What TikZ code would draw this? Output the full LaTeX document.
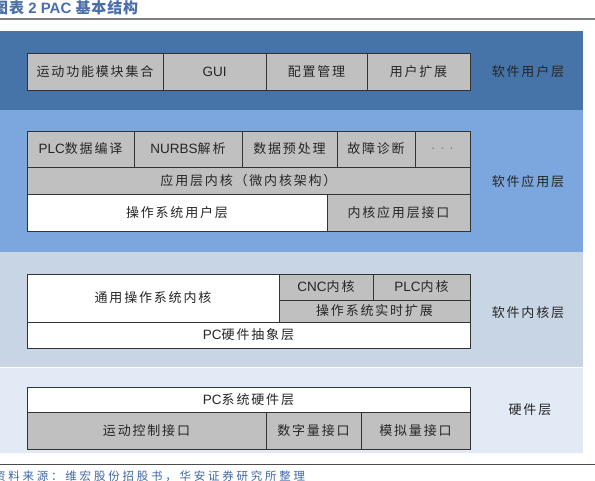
\documentclass[tikz,border=0pt]{standalone}
\usepackage{fontspec}
\setmainfont{Liberation Sans}
\newfontfamily\cjk[LetterSpace=14]{Noto Sans CJK SC}
\newfontfamily\cjkt[LetterSpace=6]{Noto Sans CJK SC}
\newfontfamily\cjks[LetterSpace=24]{Noto Sans CJK SC}
\definecolor{bandA}{HTML}{4673A8}
\definecolor{bandB}{HTML}{7BA6DE}
\definecolor{bandC}{HTML}{C8D5E5}
\definecolor{bandD}{HTML}{E2EAF6}
\definecolor{cellgray}{HTML}{C0C0C0}
\definecolor{titleblue}{HTML}{4A6FA8}
\definecolor{srcblue}{HTML}{3F66A3}
\tikzset{
  band/.style={draw=none, anchor=north west, inner sep=0pt, outer sep=0pt},
  cell/.style={draw=black!80, line width=0.9pt, anchor=north west, inner sep=0pt, outer sep=0pt,
    font=\fontsize{13.5}{15}\selectfont, text=black!85},
  gcell/.style={cell, fill=cellgray},
  wcell/.style={cell, fill=white},
  lbl/.style={font=\fontsize{13.5}{15}\selectfont, text=black!85},
  rule/.style={line width=1pt, draw=black!55}
}
\newcommand{\zh}[1]{{\fontsize{13}{15}\cjk #1}}
\begin{document}
\begin{tikzpicture}[x=1pt,y=-1pt]
\useasboundingbox (0,0) rectangle (595,481);
% title
\node[anchor=west, inner sep=0pt, text=titleblue, font=\fontsize{15}{16}\bfseries] (title) at (-7,8) {{\cjkt 图表} 2 PAC {\cjkt 基本结构}};
\coordinate (tl) at (0,19); \coordinate (tr) at (595,19);
\draw[rule, draw=black!50, line width=1.6pt] (tl) -- (tr);
% bands
\node[band, fill=bandA, minimum width=583pt, minimum height=79pt] (b1) at (0,31) {};
\node[band, fill=bandB, minimum width=583pt, minimum height=142pt] (b2) at (0,110) {};
\node[band, fill=bandC, minimum width=583pt, minimum height=115pt] (b3) at (0,252) {};
\node[band, fill=bandD, minimum width=583pt, minimum height=85pt] (b4) at (0,368) {};
% band 1
\node[gcell, minimum width=136pt, minimum height=37pt] (u1) at (27,53) {\zh{运动功能模块集合}};
\node[gcell, minimum width=103pt, minimum height=37pt] (u2) at (163,53) {GUI};
\node[gcell, minimum width=101pt, minimum height=37pt] (u3) at (266,53) {\zh{配置管理}};
\node[gcell, minimum width=103pt, minimum height=37pt] (u4) at (367,53) {\zh{用户扩展}};
\node[lbl] (l1) at (528,72) {\zh{软件用户层}};
% band 2
\node[gcell, minimum width=107pt, minimum height=36pt] (a1) at (27,131) {PLC\zh{数据编译}};
\node[gcell, minimum width=108pt, minimum height=36pt] (a2) at (134,131) {NURBS\zh{解析}};
\node[gcell, minimum width=95pt, minimum height=36pt] (a3) at (242,131) {\zh{数据预处理}};
\node[gcell, minimum width=78pt, minimum height=36pt] (a4) at (337,131) {\zh{故障诊断}};
\node[gcell, minimum width=55pt, minimum height=36pt, text=black!50, font=\fontsize{14}{15}\selectfont] (a5) at (415,131) {. . .};
\node[gcell, minimum width=443pt, minimum height=27pt] (a6) at (27,167) {\zh{应用层内核（微内核架构）}};
\node[wcell, minimum width=300pt, minimum height=37pt] (a7) at (27,194) {\zh{操作系统用户层}};
\node[gcell, minimum width=143pt, minimum height=37pt] (a8) at (327,194) {\zh{内核应用层接口}};
\node[lbl] (l2) at (528,182) {\zh{软件应用层}};
% band 3
\node[wcell, minimum width=252pt, minimum height=48pt] (k1) at (27,274) {\zh{通用操作系统内核}};
\node[gcell, minimum width=94pt, minimum height=26pt] (k2) at (279,274) {CNC\zh{内核}};
\node[gcell, minimum width=97pt, minimum height=26pt] (k3) at (373,274) {PLC\zh{内核}};
\node[gcell, minimum width=191pt, minimum height=22pt] (k4) at (279,300) {\zh{操作系统实时扩展}};
\node[wcell, minimum width=443pt, minimum height=26pt] (k5) at (27,322) {PC\zh{硬件抽象层}};
\node[lbl] (l3) at (528,313) {\zh{软件内核层}};
% band 4
\node[wcell, minimum width=443pt, minimum height=25pt] (h1) at (27,387) {PC\zh{系统硬件层}};
\node[gcell, minimum width=239pt, minimum height=37pt] (h2) at (27,412) {\zh{运动控制接口}};
\node[gcell, minimum width=95pt, minimum height=37pt] (h3) at (266,412) {\zh{数字量接口}};
\node[gcell, minimum width=109pt, minimum height=37pt] (h4) at (361,412) {\zh{模拟量接口}};
\node[lbl] (l4) at (530,410) {\zh{硬件层}};
% bottom rule and source
\coordinate (bl) at (0,464); \coordinate (br) at (595,464);
\draw[rule, draw=black!70, line width=0.9pt] (bl) -- (br);
\node[anchor=west, inner sep=0pt, text=srcblue, font=\fontsize{11.5}{12}\selectfont] (src) at (-6,476) {{\cjks 资料来源：维宏股份招股书，华安证券研究所整理}};
\end{tikzpicture}
\end{document}
